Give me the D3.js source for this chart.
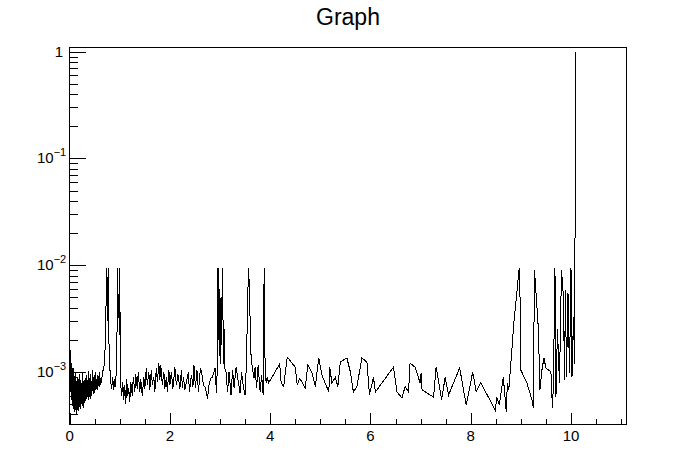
<!DOCTYPE html>
<html>
<head>
<meta charset="utf-8">
<script src="https://cdn.jsdelivr.net/npm/d3@7"></script>
<style>
  html, body { margin: 0; padding: 0; background: #fff; }
  svg { display: block; }
  text { font-family: "Liberation Sans", Arial, Helvetica, sans-serif; }
</style>
</head>
<body>
<svg id="chart" width="696" height="472"></svg>
<script>
// ---- data (x, y) ----
const series = [
  [0.000,1.8e-3],[0.004,9e-4],[0.008,1.6e-3],[0.012,7.5e-4],[0.016,1.35e-3],[0.020,1.1e-3],[0.024,6.5e-4],[0.028,1.2e-3],
  [0.032,8e-4],[0.036,5.5e-4],[0.040,1.15e-3],[0.044,9e-4],[0.048,6e-4],[0.052,1.05e-3],[0.056,4.8e-4],[0.060,9.5e-4],
  [0.064,7e-4],[0.068,1.1e-3],[0.072,5.2e-4],[0.076,8.5e-4],[0.080,6.2e-4],[0.084,1.0e-3],[0.088,4.5e-4],[0.092,7.8e-4],
  [0.096,5.8e-4],[0.100,9.2e-4],[0.104,6.8e-4],[0.108,4.2e-4],[0.112,8.8e-4],[0.116,5.5e-4],[0.120,7.2e-4],[0.124,9.8e-4],
  [0.128,4.6e-4],[0.132,6.5e-4],[0.136,8.2e-4],[0.140,4.0e-4],[0.144,7.5e-4],[0.148,5.2e-4],[0.152,9e-4],[0.156,6e-4],
  [0.160,4.4e-4],[0.164,8e-4],[0.168,5.6e-4],[0.172,7e-4],[0.176,4.3e-4],[0.180,8.6e-4],[0.184,6.4e-4],[0.188,5e-4],
  [0.192,7.6e-4],[0.196,4.7e-4],[0.200,9.6e-4],[0.206,5.8e-4],[0.212,7.2e-4],[0.218,4.5e-4],[0.224,8.4e-4],[0.230,6.2e-4],
  [0.236,5e-4],[0.242,7.8e-4],[0.248,4.8e-4],[0.254,6.8e-4],[0.260,1.0e-3],[0.266,5.4e-4],[0.272,7.4e-4],[0.278,4.6e-4],
  [0.284,8.2e-4],[0.290,6e-4],[0.296,7e-4],[0.302,5.1e-4],[0.308,8.8e-4],[0.314,6.4e-4],[0.320,5.4e-4],[0.326,7.8e-4],
  [0.332,6e-4],[0.338,9.4e-4],[0.344,5.6e-4],[0.350,7.2e-4],[0.356,6.2e-4],[0.362,8.4e-4],[0.368,5.5e-4],[0.374,1.02e-3],
  [0.380,6.6e-4],[0.386,7.6e-4],[0.392,5.8e-4],[0.398,8.8e-4],[0.404,6.4e-4],[0.410,7.2e-4],[0.416,5.6e-4],[0.422,9.6e-4],
  [0.428,6.8e-4],[0.434,8.2e-4],[0.440,6e-4],[0.446,7.4e-4],[0.452,1.04e-3],[0.458,6.6e-4],[0.464,8e-4],[0.470,6.2e-4],
  [0.476,9e-4],[0.482,7e-4],[0.488,8.4e-4],[0.494,6.4e-4],[0.500,7.8e-4],[0.510,1.0e-3],[0.520,6.8e-4],[0.530,8.6e-4],
  [0.540,7e-4],[0.550,9.4e-4],[0.560,6.8e-4],[0.570,8.2e-4],[0.580,7.4e-4],[0.590,1.0e-3],[0.600,7.2e-4],[0.610,8.8e-4],
  [0.620,7.6e-4],[0.640,8.4e-4],
  [0.660,1.0e-3],[0.680,1.1e-3],[0.700,1.25e-3],[0.715,2.2e-3],[0.730,5e-3],[0.740,9.5e-3],[0.750,3e-3],[0.760,5.5e-3],
  [0.770,9.5e-3],[0.780,2.5e-3],[0.790,1.5e-3],[0.800,1.15e-3],[0.820,8e-4],[0.840,7e-4],[0.860,9e-4],[0.880,6.8e-4],
  [0.900,8.6e-4],[0.920,7.2e-4],[0.935,1.3e-3],[0.950,3e-3],[0.960,9.5e-3],[0.970,3.5e-3],[0.980,5e-3],[0.990,2.2e-3],
  [1.000,9.5e-3],[1.010,1.6e-3],[1.020,7.5e-4],
  [1.04,6e-4],[1.06,8e-4],[1.08,5.5e-4],[1.10,7.5e-4],[1.12,5e-4],[1.14,8.5e-4],[1.16,6e-4],[1.18,7e-4],[1.20,5.2e-4],
  [1.22,8e-4],[1.25,6e-4],[1.27,9e-4],[1.30,6.5e-4],[1.32,9.5e-4],[1.35,7e-4],[1.37,1.0e-3],[1.40,6.5e-4],[1.42,8.5e-4],
  [1.45,6e-4],[1.48,9e-4],[1.50,7e-4],[1.53,1.1e-3],[1.55,7.5e-4],[1.58,1.0e-3],[1.60,6.8e-4],[1.63,1.05e-3],[1.65,7.5e-4],
  [1.68,9e-4],[1.70,6.5e-4],[1.73,1.1e-3],[1.75,8e-4],[1.78,1.2e-3],[1.80,8.5e-4],[1.82,1.15e-3],[1.85,7.5e-4],[1.88,1.0e-3],
  [1.90,7e-4],[1.93,9e-4],[1.95,6.5e-4],[1.98,1.05e-3],[2.00,7.5e-4],[2.03,1.0e-3],[2.06,7e-4],[2.10,1.1e-3],[2.13,7.5e-4],
  [2.16,9.5e-4],[2.20,7e-4],[2.23,1.05e-3],[2.25,7.1e-4],[2.27,8.9e-4],[2.30,6.8e-4],[2.37,1.0e-3],[2.39,6.5e-4],[2.43,9.4e-4],
  [2.46,7.3e-4],[2.48,1.16e-3],[2.51,7.1e-4],[2.54,1.04e-3],[2.57,6.5e-4],[2.61,1.09e-3],[2.64,9.4e-4],[2.67,7.5e-4],
  [2.71,7.1e-4],[2.75,5.6e-4],[2.78,7.5e-4],[2.81,8.7e-4],[2.85,8.9e-4],[2.90,1.09e-3],[2.93,6.35e-4],
  [2.95,1.3e-3],[2.96,9.5e-3],[2.97,2e-3],[2.98,6e-3],[2.99,1.4e-3],[3.00,4e-3],[3.01,1.2e-3],[3.02,5e-3],[3.03,1.8e-3],
  [3.05,9.5e-3],[3.06,3e-3],[3.07,1.2e-3],[3.08,2.5e-3],[3.10,1.05e-3],
  [3.12,1.0e-3],[3.15,6.5e-4],[3.18,1.0e-3],[3.22,6.1e-4],[3.25,1.04e-3],[3.28,7.1e-4],[3.32,1.11e-3],[3.36,8.4e-4],
  [3.40,6.35e-4],[3.43,1.0e-3],[3.46,7.55e-4],[3.50,6.1e-4],[3.53,1.3e-3],[3.55,4.7e-3],[3.57,9.5e-3],[3.58,7e-3],
  [3.60,3.1e-3],[3.62,1.35e-3],[3.63,1.24e-3],[3.65,1.04e-3],[3.68,8.7e-4],[3.70,1.11e-3],[3.73,7.1e-4],[3.76,1.16e-3],
  [3.80,6.5e-4],[3.83,9.4e-4],[3.86,6.1e-4],[3.88,9.5e-3],[3.90,1.0e-3],[3.92,7.9e-4],[3.94,8.9e-4],[3.97,7.9e-4],
  [4.19,1.19e-3],[4.22,7.9e-4],[4.27,7.3e-4],[4.34,1.38e-3],[4.50,1.11e-3],[4.54,7.55e-4],[4.59,8.7e-4],[4.70,7.1e-4],
  [4.75,1.16e-3],[4.83,1.0e-3],[4.90,7.3e-4],[4.97,1.35e-3],[5.03,9.4e-4],[5.17,6.5e-4],[5.19,1.11e-3],[5.23,7.9e-4],
  [5.30,8.9e-4],[5.35,7.3e-4],[5.40,1.24e-3],[5.53,1.35e-3],[5.60,1.0e-3],[5.66,6.5e-4],[5.73,7.3e-4],[5.83,1.35e-3],
  [5.93,1.24e-3],[5.98,6.1e-4],[6.06,8.9e-4],[6.10,6.5e-4],[6.46,1.11e-3],[6.53,6.5e-4],[6.63,5.7e-4],[6.69,7.3e-4],
  [6.76,6.5e-4],[6.79,1.21e-3],[6.89,1.11e-3],[6.99,7.9e-4],[7.01,9.8e-4],[7.03,6.8e-4],[7.26,5.8e-4],[7.31,1.11e-3],
  [7.42,5.5e-4],[7.49,8.9e-4],[7.56,6.1e-4],[7.64,7.55e-4],[7.78,1.09e-3],[7.91,4.9e-4],[8.04,1.0e-3],[8.11,6.5e-4],
  [8.20,7.9e-4],[8.49,4.4e-4],[8.52,5.8e-4],[8.57,4.9e-4],[8.65,8.9e-4],[8.71,4.2e-4],[8.73,7.9e-4],[8.76,6.8e-4],
  [8.78,9e-4],[8.82,1.6e-3],[8.86,2.9e-3],[8.92,5.5e-3],[8.95,7.8e-3],[8.97,9.5e-3],[8.98,6.8e-3],[9.00,1.04e-3],
  [9.12,7.9e-4],[9.22,5.5e-4],[9.25,4.6e-4],[9.27,9.0e-3],[9.29,6.8e-3],[9.32,4.1e-3],[9.35,2.5e-3],[9.38,6.8e-4],
  [9.42,1.04e-3],[9.46,1.35e-3],[9.50,1.09e-3],[9.60,1.0e-3],[9.63,4.6e-4],[9.65,7.9e-4],[9.68,9.5e-3],[9.70,5.8e-4],
  [9.73,2.5e-3],[9.77,7.9e-4],[9.81,9.0e-3],[9.85,5.0e-3],[9.87,8.4e-4],[9.89,5.9e-3],[9.91,9e-4],[9.94,5.5e-3],
  [9.97,9.8e-4],[10.00,9.5e-3],[10.02,9e-4],[10.05,3.3e-3],[10.07,1.2e-3],[10.095,1.0]
];
const xTickValues = [0, 2, 4, 6, 8, 10];
const xTickLabels = ["0", "2", "4", "6", "8", "10"];
const xMinorValues = [0.5, 1, 1.5, 2.5, 3, 3.5, 4.5, 5, 5.5, 6.5, 7, 7.5, 8.5, 9, 9.5, 10.5, 11];
const yTickValues = [1e-3, 1e-2, 1e-1, 1];
const yTickBases = ["10", "10", "10", "1"];
const yTickExps = ["\u22123", "\u22122", "\u22121", ""];
const yMinorValues = [4e-4,5e-4,6e-4,7e-4,8e-4,9e-4,
                      2e-3,3e-3,4e-3,5e-3,6e-3,7e-3,8e-3,9e-3,
                      2e-2,3e-2,4e-2,5e-2,6e-2,7e-2,8e-2,9e-2,
                      0.2,0.3,0.4,0.5,0.6,0.7,0.8,0.9];
const titleText = "Graph";
const xDomain = [0, 11.105];
const yDomain = [3.2e-4, 1.1];

// ---- layout ----
const W = 696, H = 472;
const L = 69.6, R = 626.4, T = 47.2, B = 424.8;
const svg = d3.select("#chart");

const x = d3.scaleLinear().domain(xDomain).range([L, R]);
const y = d3.scaleLog().domain(yDomain).range([B, T]);

// title
svg.append("text")
  .attr("x", W / 2).attr("y", 25)
  .attr("text-anchor", "middle")
  .attr("font-size", 23)
  .text(titleText);

// data line
svg.append("path")
  .datum(series)
  .attr("fill", "none")
  .attr("stroke", "#000")
  .attr("stroke-width", 1)
  .attr("shape-rendering", "crispEdges")
  .attr("d", d3.line().x(d => x(d[0])).y(d => y(d[1])));

// x axis (ticks pointing inward)
const xMajLen = 11.3, xMinLen = 5.7;
svg.append("g")
  .attr("transform", `translate(0,${B})`)
  .attr("shape-rendering", "crispEdges")
  .call(d3.axisBottom(x).tickValues(xTickValues).tickSizeInner(-xMajLen).tickSizeOuter(0).tickPadding(0).tickFormat(""))
  .call(g => g.select(".domain").remove());
svg.append("g")
  .attr("transform", `translate(0,${B})`)
  .attr("shape-rendering", "crispEdges")
  .call(d3.axisBottom(x).tickValues(xMinorValues).tickSizeInner(-xMinLen).tickSizeOuter(0).tickFormat(""))
  .call(g => g.select(".domain").remove());
svg.append("g")
  .selectAll("text")
  .data(xTickValues)
  .join("text")
  .attr("x", d => x(d))
  .attr("y", B + 16)
  .attr("text-anchor", "middle")
  .attr("font-size", 15)
  .text((d, i) => xTickLabels[i]);

// y axis (log, ticks pointing inward)
const yMajLen = 16.7, yMinLen = 8.4;
svg.append("g")
  .attr("transform", `translate(${L},0)`)
  .attr("shape-rendering", "crispEdges")
  .call(d3.axisLeft(y).tickValues(yTickValues).tickSizeInner(-yMajLen).tickSizeOuter(0).tickFormat(""))
  .call(g => g.select(".domain").remove());
svg.append("g")
  .attr("transform", `translate(${L},0)`)
  .attr("shape-rendering", "crispEdges")
  .call(d3.axisLeft(y).tickValues(yMinorValues).tickSizeInner(-yMinLen).tickSizeOuter(0).tickFormat(""))
  .call(g => g.select(".domain").remove());
const yLab = svg.append("g").selectAll("text")
  .data(yTickValues)
  .join("text")
  .attr("y", d => y(d) + 5)
  .attr("font-size", 15);
yLab.each(function(d, i) {
  const t = d3.select(this);
  if (yTickExps[i] === "") {
    t.attr("x", 63).attr("text-anchor", "end").text(yTickBases[i]);
  } else {
    t.attr("x", 37).attr("text-anchor", "start");
    t.append("tspan").text(yTickBases[i]);
    t.append("tspan").attr("dy", -7).attr("font-size", 11).text(yTickExps[i]);
  }
});

// frame
svg.append("rect")
  .attr("x", L).attr("y", T)
  .attr("width", R - L).attr("height", B - T)
  .attr("fill", "none")
  .attr("stroke", "#000")
  .attr("stroke-width", 1)
  .attr("shape-rendering", "crispEdges");
</script>
</body>
</html>
